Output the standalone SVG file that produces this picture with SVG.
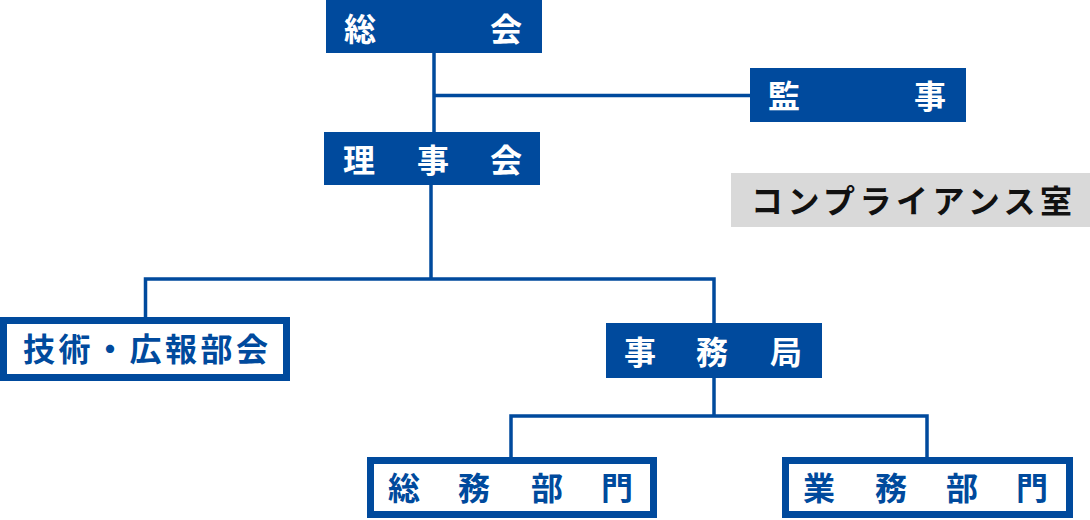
<svg xmlns="http://www.w3.org/2000/svg" width="1090" height="520" viewBox="0 0 1090 520">
<style>
.fill{fill:#004a9d}
.outline{fill:#fff;stroke:#004a9d;stroke-width:7}
.gray{fill:#d9d9d9}
.t{font-family:"Noto Sans CJK JP","Noto Sans",sans-serif;font-weight:bold;font-size:32px;dominant-baseline:central}
.w{fill:#fff}
.b{fill:#004a9d}
.k{fill:#111}
.ln{stroke:#004a9d;stroke-width:3.5;fill:none}
</style>
<g id="connectors">
<path class="ln" d="M434 53 V132"/>
<path class="ln" d="M434 95.5 H750"/>
<path class="ln" d="M431 185 V279"/>
<path class="ln" d="M145.5 318 V279 H714 V323"/>
<path class="ln" d="M714 378 V416"/>
<path class="ln" d="M511 457 V416 H927 V457"/>
</g>
<g id="sokai">
<rect class="fill" x="326" y="0" width="216" height="53"/>
<text class="t w" x="344 490" y="27">総会</text>
</g>
<g id="kanji">
<rect class="fill" x="750" y="68" width="216" height="54"/>
<text class="t w" x="768 914" y="94">監事</text>
</g>
<g id="rijikai">
<rect class="fill" x="324" y="132" width="216" height="53"/>
<text class="t w" x="343 417 490" y="158">理事会</text>
</g>
<g id="compliance">
<rect class="gray" x="731" y="173" width="359" height="54"/>
<text class="t k" x="751" y="199" letter-spacing="4.5">コンプライアンス室</text>
</g>
<g id="gijutsu">
<rect class="outline" x="3.5" y="320.5" width="283" height="57"/>
<text class="t b" x="23" y="347" letter-spacing="3.5">技術・広報部会</text>
</g>
<g id="jimukyoku">
<rect class="fill" x="606" y="323" width="216" height="55"/>
<text class="t w" x="624 696 770" y="350">事務局</text>
</g>
<g id="somubumon">
<rect class="outline" x="370.5" y="460.5" width="283" height="54"/>
<text class="t b" x="388 458 531 601" y="486">総務部門</text>
</g>
<g id="gyomubumon">
<rect class="outline" x="785.5" y="460.5" width="284" height="54"/>
<text class="t b" x="803 875 946 1016" y="486">業務部門</text>
</g>
</svg>
